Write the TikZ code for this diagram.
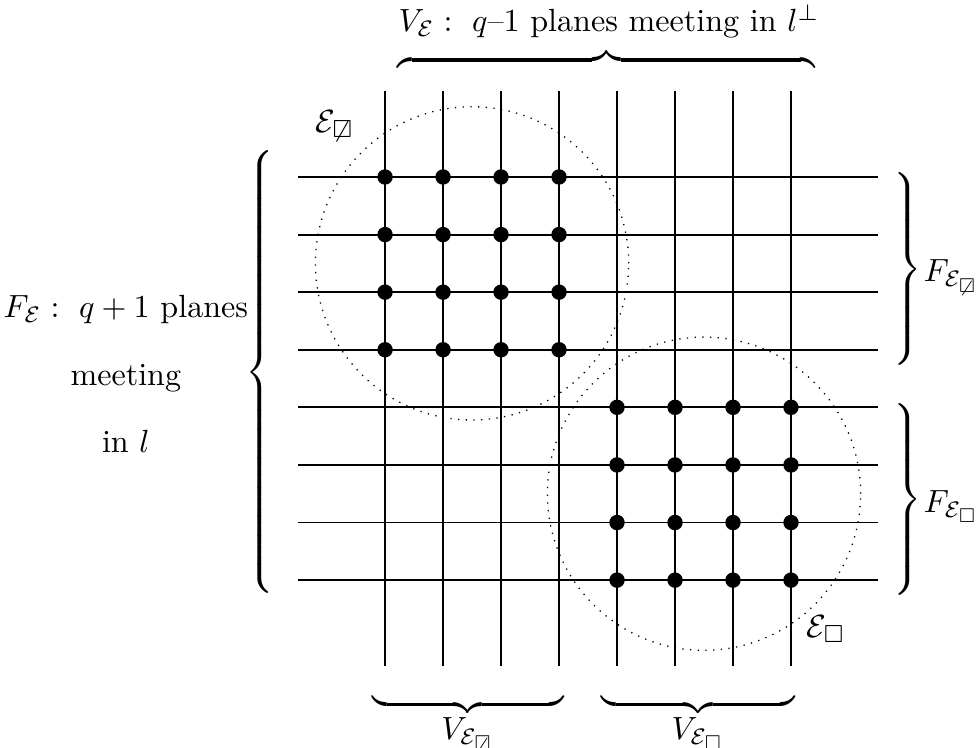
\documentclass[tikz,border=0pt]{standalone}
\usepackage{amsmath,amssymb}
\usepackage{tikz}

%% tall TeX braces, sized by hand
\newcommand{\leftbrc}[1]{$\delimitershortfall=0pt\delimiterfactor=1000
  \left\{\vcenter{\hbox{\rule{0pt}{#1}}}\right.$}
\newcommand{\rightbrc}[1]{$\delimitershortfall=0pt\delimiterfactor=1000
  \left.\vcenter{\hbox{\rule{0pt}{#1}}}\right\}$}
\newcommand{\Enot}{\mathcal{E}_{\not\square}}
\newcommand{\Esq}{\mathcal{E}_{\square}}

\begin{document}
\begin{tikzpicture}[
    x=0.635cm, y=0.6306cm,
    gridline/.style={line width=0.6pt},
    pt/.style={circle, fill, inner sep=0pt, minimum size=4.8pt},
    region/.style={circle, draw, dotted, thin, inner sep=0pt, minimum size=3.43cm},
    brc/.style={inner sep=0pt},
    lbl/.style={inner sep=0pt}
  ]
    \useasboundingbox (-5.64,-1.913) rectangle (11.19,11.073);

    %% GRID OF PLANES
    \foreach \i in {1,...,8} {
      \draw[gridline] (-0.5,\i) -- (9.5,\i);
      \draw[gridline] (\i,-0.5) -- (\i,9.5);
    }

    %% POINTS
    \foreach \i in {1,...,4} {
      \foreach \j in {5,...,8} {
        \node[pt] (a-\i-\j) at (\i,\j) {};
      }
    }
    \foreach \i in {5,...,8} {
      \foreach \j in {1,...,4} {
        \node[pt] (b-\i-\j) at (\i,\j) {};
      }
    }

    %% DOTTED REGIONS
    \node[region] (Enot) at (2.5,6.5) {};
    \node[region] (Esq) at (6.5,2.5) {};
    \node[lbl, anchor=base west] (Enotlbl) at (-0.21,8.78) {$\Enot$};
    \node[lbl, anchor=base west] (Esqlbl) at (8.26,0.01) {$\Esq$};

    %% TOP
    \node[brc] (topbrc) at (4.82,10.03) {$\overbrace{\hspace{4.57cm}}$};
    \node[lbl, anchor=base] (toplbl) at (4.86,10.52)
      {$V_{\mathcal{E}}:\ q$--1 planes meeting in $l^{\perp}$};

    %% BOTTOM
    \node[brc] (vnotbrc) at (2.43,-1.16) {$\underbrace{\hspace{2.10cm}}$};
    \node[brc] (vsqbrc) at (6.40,-1.16) {$\underbrace{\hspace{2.12cm}}$};
    \node[lbl, anchor=base] (vnotlbl) at (2.43,-1.77) {$V_{\Enot}$};
    \node[lbl, anchor=base] (vsqlbl) at (6.40,-1.77) {$V_{\Esq}$};

    %% LEFT
    \node[brc] (leftbrc) at (-1.12,4.61) {\leftbrc{4.85cm}};
    \node[lbl, align=center] (leftlbl) at (-3.47,4.58)
      {$F_{\mathcal{E}}:\ q+1$ planes\\[9pt] meeting\\[9pt] in $l$};

    %% RIGHT
    \node[brc] (fnotbrc) at (9.98,6.4) {\rightbrc{2.06cm}};
    \node[brc] (fsqbrc) at (9.98,2.4) {\rightbrc{2.06cm}};
    \node[lbl, anchor=base west] (fnotlbl) at (10.28,6.18) {$F_{\Enot}$};
    \node[lbl, anchor=base west] (fsqlbl) at (10.28,2.17) {$F_{\Esq}$};
  \end{tikzpicture}
\end{document}
